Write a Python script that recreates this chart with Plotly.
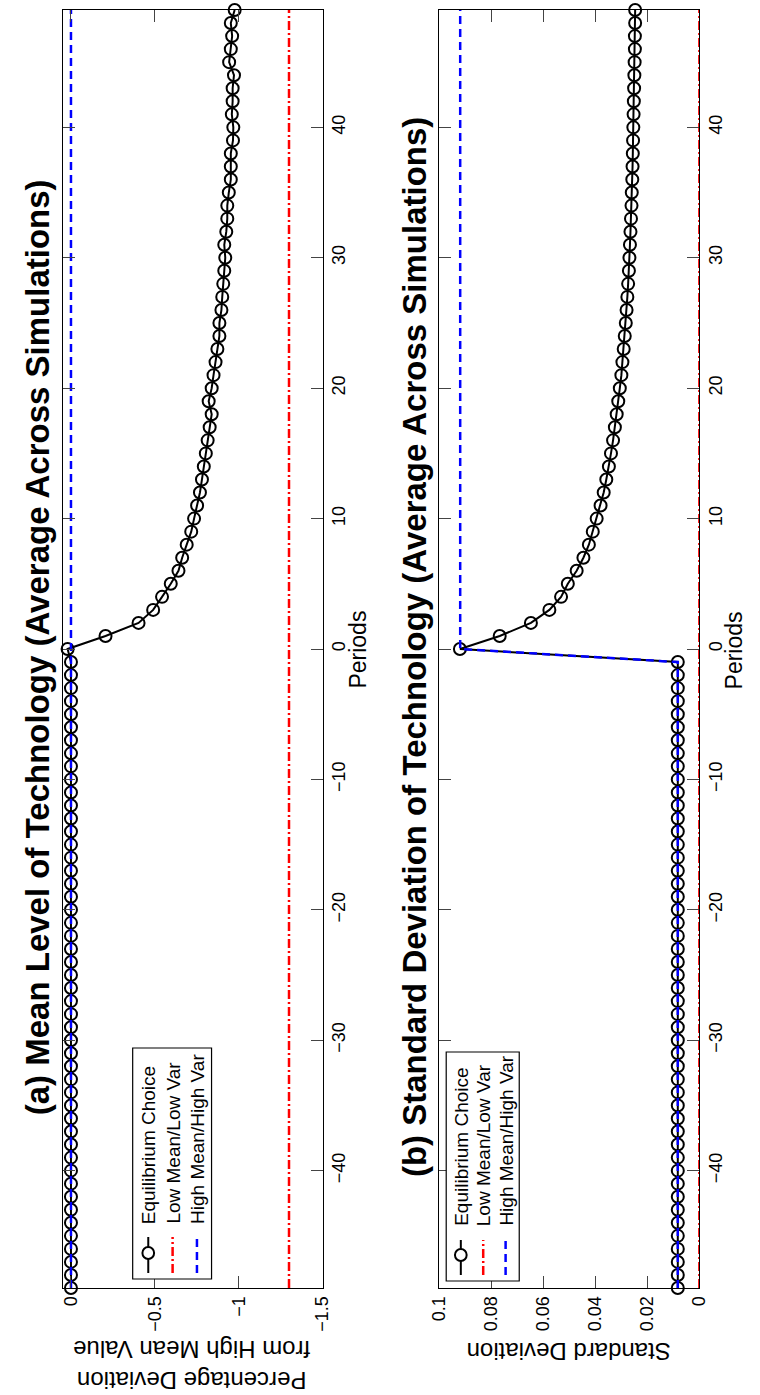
import plotly.graph_objects as go

W, H = 760, 1395

periods = list(range(-49, 50))
period_ticks = [-40, -30, -20, -10, 0, 10, 20, 30, 40]

# Panel (a): percentage deviation from high mean value
eq_mean_pre = [0.0] * 49
eq_mean_post = [0.02, -0.206, -0.403, -0.49, -0.543, -0.595, -0.641, -0.663,
                -0.69, -0.717, -0.734, -0.752, -0.769, -0.781, -0.792, -0.804,
                -0.815, -0.827, -0.839, -0.821, -0.839, -0.850, -0.862, -0.873,
                -0.885, -0.885, -0.897, -0.902, -0.908, -0.914, -0.920, -0.914,
                -0.926, -0.932, -0.932, -0.941, -0.953, -0.953, -0.953, -0.966,
                -0.968, -0.959, -0.964, -0.964, -0.972, -0.943, -0.953, -0.961,
                -0.953, -0.976]
eq_mean = eq_mean_pre + eq_mean_post
low_mean = [-1.3] * 99
high_mean = [0.0] * 99
mean_ticks = [0, -0.5, -1, -1.5]

# Panel (b): standard deviation
eq_sd_pre = [0.0083] * 49
eq_sd_post = [0.0921, 0.0768, 0.0648, 0.0577, 0.0532, 0.0506, 0.0472, 0.0446,
              0.0425, 0.041, 0.0395, 0.038, 0.0368, 0.0358, 0.0348, 0.034,
              0.0332, 0.0325, 0.0318, 0.0312, 0.0306, 0.030, 0.0296, 0.0291,
              0.0287, 0.0283, 0.028, 0.0277, 0.0274, 0.0271, 0.0269, 0.0267,
              0.0265, 0.0263, 0.0261, 0.026, 0.0258, 0.0257, 0.0256, 0.0255,
              0.0254, 0.0253, 0.0252, 0.0251, 0.025, 0.0249, 0.0248, 0.0248,
              0.0247, 0.0247]
eq_sd = eq_sd_pre + eq_sd_post
low_sd = [0.0] * 99
high_sd = [0.0083] * 49 + [0.092] * 50
sd_ticks = [0, 0.02, 0.04, 0.06, 0.08, 0.1]

legend_labels = ["Equilibrium Choice", "Low Mean/Low Var", "High Mean/High Var"]
titles = ["<b>(a) Mean Level of Technology (Average Across Simulations)</b>",
          "<b>(b) Standard Deviation of Technology (Average Across Simulations)</b>"]
value_titles = ["Percentage Deviation<br>from High Mean Value", "Standard Deviation"]

FONT = "Liberation Sans, Arial, Helvetica, sans-serif"
RED_DASH = "9px,3px,2px,3px"
BLUE_DASH = "8px,5px"


def px(x):
    return x / W


def py(y):
    return 1 - y / H


fig = go.Figure()

marker = dict(symbol="circle-open", size=12, color="black", line=dict(width=2, color="black"))

for i, (eq, lo, hi) in enumerate([(eq_mean, low_mean, high_mean), (eq_sd, low_sd, high_sd)]):
    xa = "x" if i == 0 else "x2"
    ya = "y" if i == 0 else "y2"
    fig.add_trace(go.Scatter(x=eq, y=periods, mode="lines+markers", xaxis=xa, yaxis=ya,
                             line=dict(color="black", width=2), marker=marker,
                             showlegend=False, cliponaxis=False))
    fig.add_trace(go.Scatter(x=lo, y=periods, mode="lines", xaxis=xa, yaxis=ya,
                             line=dict(color="red", width=2.5, dash=RED_DASH), showlegend=False))
    fig.add_trace(go.Scatter(x=hi, y=periods, mode="lines", xaxis=xa, yaxis=ya,
                             line=dict(color="blue", width=2.5, dash=BLUE_DASH), showlegend=False))

common_val = dict(showgrid=False, zeroline=False, showline=True, linecolor="black", linewidth=1,
                  mirror="ticks", ticks="inside", ticklen=12, tickcolor="#444", tickwidth=1,
                  tickangle=-90, tickfont=dict(size=18, color="black", family=FONT))
common_per = dict(showgrid=False, zeroline=False, showline=True, linecolor="black", linewidth=1,
                  mirror="ticks", ticks="inside", ticklen=12, tickcolor="#444", tickwidth=1,
                  tickangle=-90, side="right", range=[-49, 49], tickvals=period_ticks,
                  tickfont=dict(size=18, color="black", family=FONT))

ydom = [py(1288), py(10)]
fig.update_layout(
    width=W, height=H, margin=dict(l=0, r=0, t=0, b=0),
    paper_bgcolor="white", plot_bgcolor="white",
    font=dict(family=FONT, color="black"),
    xaxis=dict(domain=[px(54), px(321)], range=[0.05, -1.5], tickvals=mean_ticks,
               ticktext=["0", "\u22120.5", "\u22121", "\u22121.5"], anchor="y", **common_val),
    yaxis=dict(domain=ydom, anchor="x", **common_per),
    xaxis2=dict(domain=[px(441), px(708)], range=[0.1, 0], tickvals=sd_ticks,
                ticktext=["0", "0.02", "0.04", "0.06", "0.08", "0.1"], anchor="y2", **common_val),
    yaxis2=dict(domain=ydom, anchor="x2", **common_per),
    showlegend=False,
)

annotations = []
shapes = []

# Titles (rotated)
for cx, t in zip([28, 415], titles):
    annotations.append(dict(x=px(cx), y=py(647), xref="paper", yref="paper", text=t,
                            textangle=-90, showarrow=False, xanchor="center", yanchor="middle",
                            font=dict(size=33, family=FONT, color="black")))
# Periods titles
for cx in [357, 744]:
    annotations.append(dict(x=px(cx), y=py(650), xref="paper", yref="paper", text="Periods",
                            textangle=-90, showarrow=False, xanchor="center", yanchor="middle",
                            font=dict(size=23, family=FONT, color="black")))
# Value axis titles (upside down)
for (cx, cy), t in zip([(187, 1365), (574, 1352)], value_titles):
    annotations.append(dict(x=px(cx), y=py(cy), xref="paper", yref="paper", text=t,
                            textangle=180, showarrow=False, xanchor="center", yanchor="middle",
                            font=dict(size=24, family=FONT, color="black")))

# Manual rotated legends
legends = [dict(box=(126, 1048, 207, 1279), xs=(142, 167, 192), y0=1237, y1=1273, cy=1253, tb=1226),
           dict(box=(448, 1052, 523, 1281), xs=(463, 486, 509), y0=1240, y1=1275, cy=1255, tb=1228)]
for lg in legends:
    bx0, by0, bx1, by1 = lg["box"]
    shapes.append(dict(type="rect", xref="paper", yref="paper", x0=px(bx0), x1=px(bx1),
                       y0=py(by1), y1=py(by0), line=dict(color="black", width=1.2),
                       fillcolor="white", layer="above"))
    styles = [dict(color="black", width=2), dict(color="red", width=2.5, dash=RED_DASH),
              dict(color="blue", width=2.5, dash=BLUE_DASH)]
    for xx, st, lab in zip(lg["xs"], styles, legend_labels):
        shapes.append(dict(type="line", xref="paper", yref="paper", x0=px(xx), x1=px(xx),
                           y0=py(lg["y1"]), y1=py(lg["y0"]), line=st, layer="above"))
        annotations.append(dict(x=px(xx), y=py(lg["tb"]), xref="paper", yref="paper", text=lab,
                                textangle=-90, showarrow=False, xanchor="center", yanchor="bottom",
                                font=dict(size=19, family=FONT, color="black")))
    cx0 = lg["xs"][0]
    shapes.append(dict(type="circle", xref="paper", yref="paper", x0=px(cx0 - 6), x1=px(cx0 + 6),
                       y0=py(lg["cy"] + 6), y1=py(lg["cy"] - 6),
                       line=dict(color="black", width=2), fillcolor="white", layer="above"))

fig.update_layout(annotations=annotations, shapes=shapes)
fig.write_html("out.html")
